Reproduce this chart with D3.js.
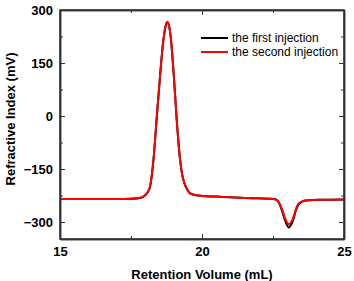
<!DOCTYPE html>
<html>
<head>
<meta charset="utf-8">
<script src="https://cdn.jsdelivr.net/npm/d3@7"></script>
<style>
  body { margin: 0; background: #fff; }
  svg { display: block; font-family: Arial, "Liberation Sans", sans-serif; }
</style>
</head>
<body>
<svg id="chart"></svg>
<script>
// Retention volume (mL)
const volume = [15, 16, 17, 17.5, 17.8, 18.0, 18.1, 18.17, 18.29, 18.4, 18.52, 18.64, 18.72, 18.78, 18.84, 18.91, 19.01, 19.11, 19.23, 19.3, 19.38, 19.48, 19.58, 19.8, 20.0, 20.5, 21, 21.5, 22, 22.4, 22.6, 22.7, 22.81, 22.92, 23.0, 23.06, 23.12, 23.21, 23.31, 23.4, 23.51, 23.65, 23.8, 24.2, 25];

// Refractive index (mV) for both runs
const firstInjection = [-235, -235, -235, -234, -232, -224, -214, -200, -125, -11, 111, 215, 255, 266, 255, 215, 111, -11, -125, -165, -190, -208, -219, -224, -226, -228, -230, -232, -233, -234, -236, -244, -266, -294, -310, -316, -310, -294, -266, -250, -243, -239, -238, -237, -236];
const secondInjection = [-235, -235, -235, -234, -232, -224, -214, -200, -125, -11, 111, 215, 255, 266, 255, 215, 111, -11, -125, -165, -190, -208, -219, -224, -226, -228, -230, -232, -233, -234, -236, -243, -262, -288, -302, -306, -302, -288, -262, -248, -242, -239, -238, -237, -236];

const seriesNames = ["the first injection", "the second injection"];
const seriesColors = ["#000000", "#ff0000"];

const xTicks = [15, 20, 25];
const xMinor = [17.5, 22.5];
const yTicks = [300, 150, 0, -150, -300];
const yMinor = [225, 75, -75, -225];

const W = 354, H = 281;
const margin = { top: 10, right: 10, bottom: 42, left: 60 };
const width = W - margin.left - margin.right;
const height = H - margin.top - margin.bottom;

const svg = d3.select("#chart").attr("width", W).attr("height", H);
svg.append("rect").attr("width", W).attr("height", H).attr("fill", "#fff");

const g = svg.append("g").attr("transform", `translate(${margin.left},${margin.top})`);

const x = d3.scaleLinear().domain([15, 25]).range([0, width]);
const y = d3.scaleLinear().domain([-348, 300]).range([height, 0]);

const line = d3.line()
    .curve(d3.curveMonotoneX)
    .x((d, i) => x(volume[i]))
    .y(d => y(d));

// Curves: black first, red on top
[firstInjection, secondInjection].forEach((s, i) => {
    g.append("path")
        .datum(s)
        .attr("fill", "none")
        .attr("stroke", seriesColors[i])
        .attr("stroke-width", 2)
        .attr("d", line);
});

// Frame with inward ticks on all four sides
const frameColor = "#333";
const axisBottom = d3.axisBottom(x).tickValues(xTicks).tickSizeInner(-5).tickSizeOuter(0).tickPadding(8).tickFormat(d3.format("d"));
const axisLeft = d3.axisLeft(y).tickValues(yTicks).tickSizeInner(-5).tickSizeOuter(0).tickPadding(7).tickFormat(d3.format("d"));

g.append("g").attr("transform", `translate(0,${height})`).call(axisBottom);
g.append("g").call(axisLeft);
g.append("g").call(d3.axisTop(x).tickValues(xTicks).tickSizeInner(-5).tickSizeOuter(0).tickFormat(""));
g.append("g").attr("transform", `translate(${width},0)`)
    .call(d3.axisRight(y).tickValues(yTicks).tickSizeInner(-5).tickSizeOuter(0).tickFormat(""));

// minor ticks
g.append("g").attr("transform", `translate(0,${height})`)
    .call(d3.axisBottom(x).tickValues(xMinor).tickSizeInner(-3).tickSizeOuter(0).tickFormat(""));
g.append("g").call(d3.axisTop(x).tickValues(xMinor).tickSizeInner(-3).tickSizeOuter(0).tickFormat(""));
g.append("g").call(d3.axisLeft(y).tickValues(yMinor).tickSizeInner(-3).tickSizeOuter(0).tickFormat(""));
g.append("g").attr("transform", `translate(${width},0)`)
    .call(d3.axisRight(y).tickValues(yMinor).tickSizeInner(-3).tickSizeOuter(0).tickFormat(""));

g.selectAll(".domain").attr("stroke", frameColor).attr("stroke-width", 1.5);
g.selectAll(".tick line").attr("stroke", frameColor).attr("stroke-width", 1);
g.selectAll(".tick text")
    .attr("fill", "#000")
    .style("font-size", "13px")
    .style("font-weight", "bold")
    .style("font-family", "Arial, 'Liberation Sans', sans-serif");

// close the frame
g.append("rect")
    .attr("width", width).attr("height", height)
    .attr("fill", "none").attr("stroke", frameColor).attr("stroke-width", 1.5);

// Axis titles
svg.append("text")
    .attr("x", margin.left + width / 2)
    .attr("y", 279)
    .attr("text-anchor", "middle")
    .style("font-size", "13px")
    .style("font-weight", "bold")
    .text("Retention Volume (mL)");

svg.append("text")
    .attr("transform", "rotate(-90)")
    .attr("x", -119)
    .attr("y", 15)
    .attr("text-anchor", "middle")
    .style("font-size", "13px")
    .style("font-weight", "bold")
    .text("Refractive Index (mV)");

// Legend
seriesNames.forEach((name, i) => {
    const ly0 = 38 + i * 14;
    svg.append("line")
        .attr("x1", 201).attr("x2", 228)
        .attr("y1", ly0).attr("y2", ly0)
        .attr("stroke", seriesColors[i])
        .attr("stroke-width", 2);
    svg.append("text")
        .attr("x", 232)
        .attr("y", ly0)
        .attr("dy", "0.35em")
        .style("font-size", "12px")
        .text(name);
});
</script>
</body>
</html>
